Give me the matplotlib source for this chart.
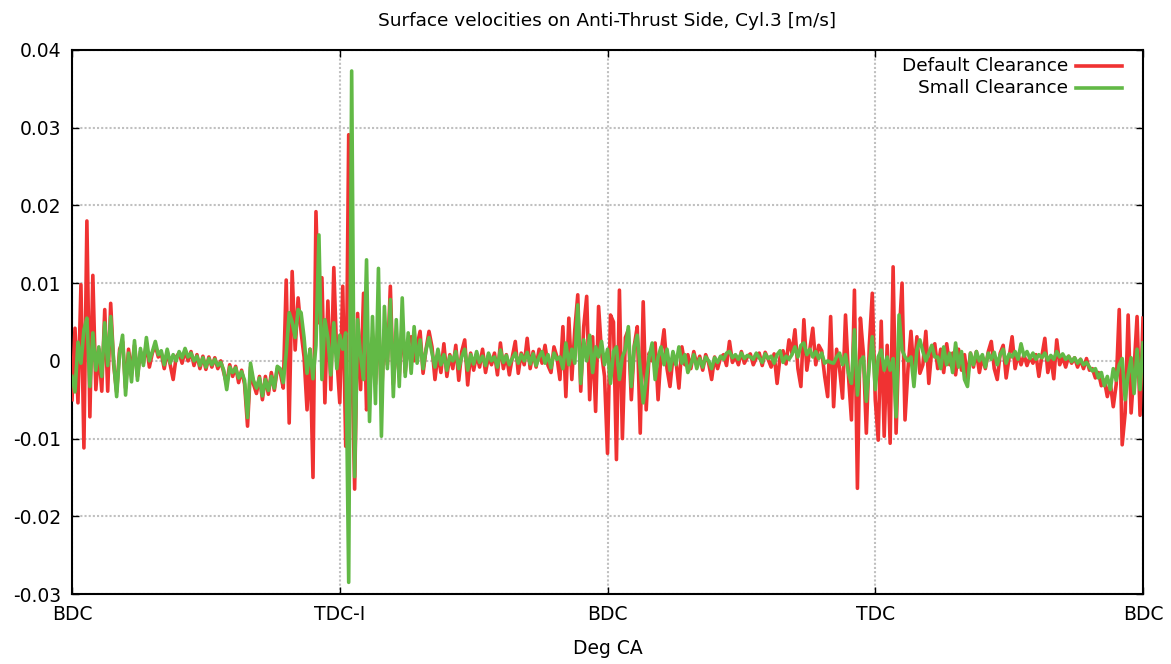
import numpy as np
import matplotlib
matplotlib.use("Agg")
import matplotlib.pyplot as plt

# surface velocity samples every 2 deg CA, in 1e-3 m/s
default_clearance = [
    # 0-58 deg
    -5, 4.2, -5.4, 9.8, -11.2, 18, -7.2, 11, -3.7, 1.5,
    -3.9, 6.6, -3.9, 7.4, -0.5, -4, 1.5, 2.5, -3.5, 1.5,
    -1.5, 2, -2, 1.2, -0.3, 2.2, -0.8, 1, 2, 0.5,
    # 60-138
    1.0, -1.0, 1.2, -0.5, -2.4, 0.5, 1.0, -0.3, 1.4, 0,
    1.2, -0.6, 0.8, -1.0, 0.6, -1.1, 0.5, -0.8, 0.4, -1.0,
    0, -1.5, -3.0, -0.5, -2.0, -0.7, -2.8, -1.2, -3.0, -8.4,
    -0.8, -3, -4.2, -2, -5, -2, -4.3, -1.5, -3.8, -1.0,
    # 140-240
    -1.5, -3.5, 10.4, -8, 11.5, 1.4, 8.1, 3.7, 0.5, -6.3,
    1.5, -15, 19.2, 4.9, 10.7, -5.4, 7.7, -3.7, 12, 0.5,
    -5.4, 9.6, -11, 29.1, 2, -16.5, 6.1, -3.7, 8.7, -6.3,
    -4, 3, -3, 6, -5, 4, -0.5, 9.6, -3, 3,
    -2, 5, -1.5, 2.5, 3.1, 0, 2, 3.8, -1.6, 1.5, 3.8,
    # 242-326
    1.8, -2.4, 1.0, -1.5, 2.2, -2.0, 0.8, -1.0, 2.0, -2.5,
    1.2, 2.7, -3.1, 1.0, -1.2, 0.8, -0.8, 1.5, -1.5, 0.6,
    -0.5, 1.0, -1.8, 2.3, -1.0, 0.8, -1.8, 0.5, 2.5, -1.6,
    1.0, -0.5, 2.9, -1.0, 1.2, -0.8, 1.5, -0.3, 2.0, -0.6,
    -1.5, 1.8, 0.5,
    # 328-414
    -2.4, 4.4, -4.6, 5.5, -2.4, 4, 8.5, -3.9, 4.4, 8.3,
    -5, 3.1, -6.5, 7, 1, -2, -11.9, 5.9, 5, -12.7,
    9.1, -10, 3, 4, -5, 2, 4.4, -9.3, 7.6, -6.3,
    1, 0, 2.3, -5, 1, 4, -1, -3.3, 0.5, 0,
    -3.5, 1.8, -0.5, 0.8,
    # 416-482
    -1.0, 1.2, -0.5, 0.6, -1.2, 0.8, -0.3, -2.4, 0.5, -1.0,
    0.4, 0.8, -0.6, 2.5, -0.2, 0.6, -0.5, 1.2, -0.3, 0.5,
    0.9, -0.5, 0.4, 1.0, -0.6, 1.1, 0.2, -0.8, 0.9, -2.9,
    0.5, 1.3, -0.4, 2.7,
    # 484-580
    1.0, 4, -1, -3.3, 5.3, -1.2, 1.5, 4.2, -0.5, 2,
    1.3, -2, -4.6, 5.7, -5.9, 1.5, -1, -4.8, 5.9, -2,
    -7.6, 9.1, -16.4, 5.5, 1, -9.3, 2, 8.7, -5, -10.2,
    5.1, -9.7, 2, -10.6, 12.1, -9.3, 3, 10, -7.6, -1,
    3.8, -1.6, 3.1, -1.6, -0.5, 3.8, -2.9, 1.5, 2.2,
    # 582-720
    -1.0, 1.5, -1.5, 2.2, -0.5, 1.0, -1.8, 1.5, -1.2, 0.8,
    -2.2, 1.0, -0.8, 1.2, -1.5, 0.5, -1.0, 1.2, 2.5, -1.0,
    -2.4, 1.0, 2.0, -2.2, 0.5, 3.1, -1.0, 0.8, -0.5, 0.8,
    -0.6, 0.5, -0.3, 0.8, -2.0, 0.6, 2.9, -1.5, 0.5, -2.3,
    2.7, -0.5, 0.5, -0.8, 0.6, -0.3, 0.4, -0.8, 0.2, -1.0,
    0.3, -1.2, -1.0, -2.2, -1.5, -3.2, -2.5, -4.6, -2.8, -5.9,
    -3, 6.6, -10.8, -6.7, 5.9, -6.7, -1, 5.7, -7, 5.5,
]

small_clearance = [
    # 0-58 deg
    -2, -4, 2.4, -0.3, 4, 5.5, -3.3, 3.6, -1.2, 1.8,
    -2, 4.9, -0.6, 5.7, 0, -4.6, 1, 3.3, -4.4, 1,
    -2.7, 2.6, -2.5, 1.6, -0.6, 3, 0, 1.2, 2.5, 0.8,
    # 60-138
    1.3, -0.5, 1.5, -0.3, 0.8, 0, 1.2, 0.4, 1.6, 0.5,
    1.0, 0, 0.6, -0.6, 0.4, -0.8, 0.3, -0.5, 0.2, -0.6,
    -0.2, -1.2, -3.7, -0.8, -1.5, -0.9, -2.2, -1.4, -2.5, -7.3,
    -0.3, -2.5, -3.5, -2.2, -4.5, -2.4, -3.8, -2, -3.5, -0.7,
    # 140-240
    -1, -2.8, 1, 6.2, 5, 3, 6.6, 6.2, 3, -1.6,
    1.5, -2.3, 2, 16.2, -2.4, 5.3, 3, -1.8, 4.9, -1,
    3.3, 1.5, 3.6, -28.5, 37.3, -14.9, 5.3, 0.6, -2.4, 13,
    -7.8, 5.7, -5.5, 11.9, -9.7, 7, -1, 7.9, -4.6, 5.3,
    -3.3, 8.1, -2, 3.6, -1.6, 4.4, -0.3, 2.7, -1, 1.4, 3,
    # 242-326
    1.0, -0.8, 1.5, -0.5, 0.8, -1.2, 0.6, 0, 1.2, -1.0,
    0.5, 1.5, -1.2, 0.8, -0.4, 1.2, -0.2, 0.6, -0.6, 1.0,
    0, 0.5, -0.8, 1.4, -0.2, 0.7, -0.5, 0.3, 1.0, -0.3,
    0.8, 0, 1.1, -0.4, 0.9, -0.6, 0.5, 1.2, -0.3, 0.8,
    -0.9, 1.0, 0.2,
    # 328-414
    0.5, -1.0, 2.3, -0.5, 1.5, -0.3, 7.2, -2.9, 2.7, 0,
    3.3, -1.5, 1.8, 0.5, 2.5, -0.5, 1.5, -2.9, 1.2, 1.8,
    -2.4, 0.5, 1.5, 4.4, -3.3, 1.8, 3.3, -1, -5.4, -2.4,
    0.5, 2.3, -2.4, 0.5, 1.8, -0.5, 1.5, -1.2, 1.2, -0.5,
    1.8, -0.3, 0.8, -1.5,
    # 416-482
    -0.5, 0.8, -1.0, 0.3, -0.8, 0.5, 0, -1.0, 0.4, -0.2,
    0.6, 0.2, 1.0, 1.2, 0.4, 0.8, 0.2, 1.0, 0.3, 0.7,
    0.5, 0.2, 1.0, 0.4, -0.2, 0.9, 0.3, 0.6, -0.3, 0.8,
    1.3, -0.2, 0.6, 0.2,
    # 484-580
    0.8, 1.8, 0.5, 2.0, 2.3, 0.8, 1.5, 0.5, 1.2, 0.3,
    1.0, -0.3, 0, -0.2, -0.3, 0.5, 1.0, -0.5, 0.8, -1.6,
    -2.9, 4, -4.4, 0, 0.5, -5.2, -0.5, 3.1, -3.7, 0.5,
    1.4, -1.2, 0.5, -1.2, 0.3, -7.2, 5.9, 1.4, 0.5, 0,
    0.5, -3.3, 1.4, 2.7, 1.2, 0, 1.0, 2.0, 0.5,
    # 582-720
    0.5, -1.0, 1.8, -0.5, 1.0, -1.5, 2.3, -0.8, 1.2, -2.4,
    -3.3, 1.0, -0.5, 1.2, 0, 0.8, -0.8, 1.0, 0.2, 1.1,
    -0.5, 0.8, 1.5, -0.3, 0.9, 0.5, 1.2, 0.2, 2.2, 0.6,
    1.2, 0.3, 1.0, 0.2, 0.8, 0.4, 1.0, 0.1, 0.7, 0.2,
    1.2, 0.5, 0.9, 0.2, 0.6, -0.1, 0.4, -0.3, 0.2, -0.5,
    -0.2, -0.8, -1.3, -1.0, -2.2, -1.5, -3.2, -2.0, -3.7, -1.0,
    -2.5, -0.5, 0.3, -5, -1.8, 0.4, -4.2, 1.5, -3.7, 2.3,
]

tick_pos = [0, 180, 360, 540, 720]
tick_names = ["BDC", "TDC-I", "BDC", "TDC", "BDC"]
y_ticks = [-0.03, -0.02, -0.01, 0, 0.01, 0.02, 0.03, 0.04]

red = "#f03232"
green = "#62b946"

deg_red = np.arange(len(default_clearance)) * 2
deg_green = np.arange(len(small_clearance)) * 2
v_red = np.array(default_clearance) / 1000.0
v_green = np.array(small_clearance) / 1000.0

fig = plt.figure(figsize=(11.71, 6.64), dpi=100)
ax = fig.add_axes([0.0615, 0.1054, 0.9146, 0.8193])

ax.plot(deg_red, v_red, color=red, lw=2.6, zorder=3)
ax.plot(deg_green, v_green, color=green, lw=2.6, zorder=4)

ax.set_xlim(0, 720)
ax.set_ylim(-0.03, 0.04)
ax.set_xticks(tick_pos)
ax.set_xticklabels(tick_names)
ax.set_yticks(y_ticks)
ax.set_yticklabels(["%g" % t for t in y_ticks])

ax.grid(True, color="#c0c0c0", linestyle=(0, (1, 1)), lw=1.5, zorder=1)
ax.tick_params(axis="both", direction="in", labelsize=13.5, top=True, right=True,
               length=5, width=1, colors="black", pad=8)
for s in ax.spines.values():
    s.set_linewidth(1.5)

ax.set_title("Surface velocities on Anti-Thrust Side, Cyl.3 [m/s]", fontsize=13.3, pad=17)
ax.set_xlabel("Deg CA", fontsize=13.5, labelpad=11)

# legend like gnuplot: right aligned text, line sample on the right
for k, (lab, col) in enumerate([("Default Clearance", red), ("Small Clearance", green)]):
    yy = 0.971 - k * 0.040
    ax.text(0.930, yy, lab, transform=ax.transAxes, ha="right", va="center", fontsize=13.3)
    ax.plot([0.937, 0.980], [yy, yy], transform=ax.transAxes, color=col, lw=2.6, zorder=5)

fig.savefig("out.png", dpi=100)
